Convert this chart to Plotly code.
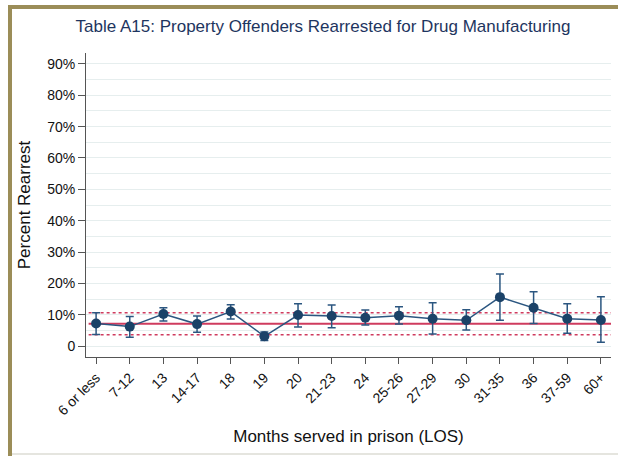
import plotly.graph_objects as go

# Length of stay categories and rearrest rates (percent)
categories = ["6 or less", "7-12", "13", "14-17", "18", "19", "20", "21-23", "24",
              "25-26", "27-29", "30", "31-35", "36", "37-59", "60+"]
rate = [7.2, 6.2, 10.2, 7.0, 11.0, 3.1, 9.9, 9.6, 9.0, 9.7, 8.7, 8.2, 15.6, 12.2, 8.7, 8.3]
upper = [10.6, 9.4, 12.2, 9.6, 13.2, 4.5, 13.5, 13.1, 11.5, 12.5, 13.8, 11.6, 23.0, 17.3, 13.5, 15.7]
lower = [3.7, 2.8, 8.0, 4.4, 8.6, 1.8, 6.1, 5.8, 6.7, 7.0, 3.8, 5.1, 8.2, 7.2, 4.1, 1.2]

# Overall rate and its confidence band
overall = 7.1
overall_hi = 10.6
overall_lo = 3.6

y_ticks = [0, 10, 20, 30, 40, 50, 60, 70, 80, 90]
y_tick_text = ["0"] + [f"{v}%" for v in y_ticks[1:]]

navy = "#1b4268"
line_col = "#2b5680"
red = "#cf3b5e"
font = "Liberation Sans, Arial, Helvetica, sans-serif"

x_idx = list(range(len(categories)))

fig = go.Figure()

# Reference lines spanning the plot width, drawn beneath the data
for val, dash, w in [(overall, "solid", 2), (overall_hi, "dot", 1.6), (overall_lo, "dot", 1.6)]:
    fig.add_shape(type="line", xref="paper", yref="y", x0=0.005, x1=1, y0=val, y1=val,
                  line=dict(color=red, width=w, dash=dash), layer="between")

fig.add_trace(go.Scatter(
    x=x_idx, y=rate, mode="lines+markers",
    line=dict(color=line_col, width=1.5),
    marker=dict(color=navy, size=10),
    error_y=dict(type="data", symmetric=False,
                 array=[u - r for u, r in zip(upper, rate)],
                 arrayminus=[r - l for r, l in zip(rate, lower)],
                 color=line_col, thickness=1.5, width=4),
    showlegend=False,
))

# Plot area geometry in pixels (for the outer frame)
W, H = 618, 456
L, R, T, B = 86, 7, 53, 99
pw, ph = W - L - R, H - T - B


def px(x):
    return (x - L) / pw


def py(y):
    return (H - B - y) / ph


frame = "#9b8d58"
fig.add_shape(type="rect", xref="paper", yref="paper", x0=px(8), x1=px(618), y0=py(9), y1=py(5),
              fillcolor=frame, line=dict(width=0), layer="above")
fig.add_shape(type="rect", xref="paper", yref="paper", x0=px(8), x1=px(12), y0=py(456), y1=py(5),
              fillcolor=frame, line=dict(width=0), layer="above")
fig.add_shape(type="line", xref="paper", yref="paper", x0=px(12), x1=px(618), y0=py(454), y1=py(454),
              line=dict(color="#dcdcd4", width=1.5), layer="above")

fig.update_layout(
    width=W, height=H,
    margin=dict(l=L, r=R, t=T, b=B, pad=0),
    paper_bgcolor="white", plot_bgcolor="white",
    font=dict(family=font, color="#111111", size=14),
    title=dict(text="Table A15: Property Offenders Rearrested for Drug Manufacturing",
               x=323 / W, xanchor="center", y=1 - 26 / H, yanchor="middle",
               font=dict(size=17, color="#1e3560", family=font)),
    xaxis=dict(
        tickmode="array", tickvals=x_idx, ticktext=categories, tickangle=-45,
        range=[-0.3, 15.3], showgrid=False, zeroline=False,
        showline=True, linecolor="#555555", linewidth=1,
        ticks="outside", ticklen=6, tickcolor="#555555",
        tickfont=dict(size=14, color="#111111"),
        title=dict(text="Months served in prison (LOS)", font=dict(size=17, color="#111111"), standoff=12),
    ),
    yaxis=dict(
        tickmode="array", tickvals=y_ticks, ticktext=y_tick_text,
        range=[-3.5, 93.5], showgrid=False, zeroline=False,
        showline=True, linecolor="#555555", linewidth=1,
        ticks="outside", ticklen=7, tickcolor="#555555",
        tickfont=dict(size=14, color="#111111"),
        title=dict(text="Percent Rearrest", font=dict(size=17, color="#111111"), standoff=12),
        minor=dict(tickvals=list(range(0, 95, 5)), showgrid=True, gridcolor="#e6eeee", gridwidth=1, ticks=""),
    ),
)

fig.write_html("out.html")
